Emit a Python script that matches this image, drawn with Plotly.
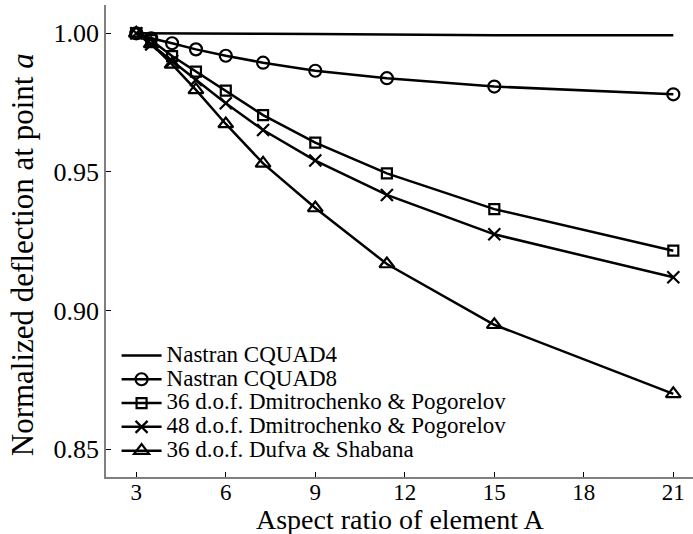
import plotly.graph_objects as go

aspect = [3, 3.5, 4.2, 5, 6, 7.25, 9, 11.4, 15, 21]
cquad4 = [1.0, 1.0, 0.99995, 0.9999, 0.99985, 0.9998, 0.9997, 0.9995, 0.9993, 0.9993]
cquad8 = [1.0, 0.9982, 0.9964, 0.9942, 0.9919, 0.9894, 0.9865, 0.9838, 0.9808, 0.9780]
dp36 = [1.0, 0.9975, 0.9918, 0.9862, 0.9793, 0.9705, 0.9606, 0.9495, 0.9366, 0.9216]
dp48 = [1.0, 0.9960, 0.9900, 0.9832, 0.9748, 0.9651, 0.9541, 0.9417, 0.9275, 0.9120]
ds36 = [1.0, 0.9962, 0.9888, 0.9796, 0.9673, 0.9531, 0.9370, 0.9168, 0.8949, 0.8700]

names = ["Nastran CQUAD4", "Nastran CQUAD8", "36 d.o.f. Dmitrochenko &amp; Pogorelov",
         "48 d.o.f. Dmitrochenko &amp; Pogorelov", "36 d.o.f. Dufva &amp; Shabana"]
series = [cquad4, cquad8, dp36, dp48, ds36]
symbols = [None, "circle-open", "square-open", "x-thin-open", "triangle-up-open"]
sizes = [0, 12, 10, 12, 13]
xtitle = "Aspect ratio of element A"
ytitle = "Normalized deflection at point <i>a</i>"

FONT = "Liberation Serif, DejaVu Serif, serif"
fig = go.Figure()
for name, ys, sym, sz in zip(names, series, symbols, sizes):
    label = '<span style="font-size:23px">' + name + '</span>'
    if sym is None:
        fig.add_trace(go.Scatter(x=aspect, y=ys, mode="lines", name=label,
                                 line=dict(color="black", width=2.5)))
    else:
        fig.add_trace(go.Scatter(x=aspect, y=ys, mode="lines+markers", name=label,
                                 line=dict(color="black", width=2.5),
                                 marker=dict(symbol=sym, size=sz, color="black",
                                             line=dict(color="black", width=2.2))))

fig.update_layout(
    template="none",
    width=693, height=534,
    margin=dict(l=106, r=0, t=5, b=57),
    paper_bgcolor="white", plot_bgcolor="white",
    font=dict(family=FONT, size=20, color="black"),
    showlegend=True,
    legend=dict(x=0.018, y=0.02, xanchor="left", yanchor="bottom",
                bgcolor="rgba(0,0,0,0)", font=dict(size=16, family=FONT),
                tracegroupgap=0, itemwidth=40),
    xaxis=dict(range=[1.985, 21.66], tickvals=[3, 6, 9, 12, 15, 18, 21],
               showline=True, linecolor="#808080", linewidth=1.5,
               ticks="inside", ticklen=5, tickcolor="black", tickwidth=1,
               showgrid=False, zeroline=False, mirror=False, automargin=False,
               tickfont=dict(size=23, family=FONT), ticklabelstandoff=-6),
    yaxis=dict(range=[0.84, 1.0102], tickvals=[0.85, 0.90, 0.95, 1.00],
               ticktext=["0.85", "0.90", "0.95", "1.00"],
               showline=True, linecolor="#808080", linewidth=1.5,
               ticks="inside", ticklen=5, tickcolor="black", tickwidth=1,
               showgrid=False, zeroline=False, automargin=False,
               tickfont=dict(size=26, family=FONT)),
    annotations=[
        dict(text=xtitle, xref="paper", yref="paper", x=0.5, y=-0.09,
             xanchor="center", yanchor="middle", showarrow=False,
             font=dict(size=28, family=FONT)),
        dict(text=ytitle, xref="paper", yref="paper", x=-0.143, y=0.47,
             xanchor="center", yanchor="middle", showarrow=False, textangle=-90,
             font=dict(size=31, family=FONT)),
    ],
)
fig.write_html("out.html")
